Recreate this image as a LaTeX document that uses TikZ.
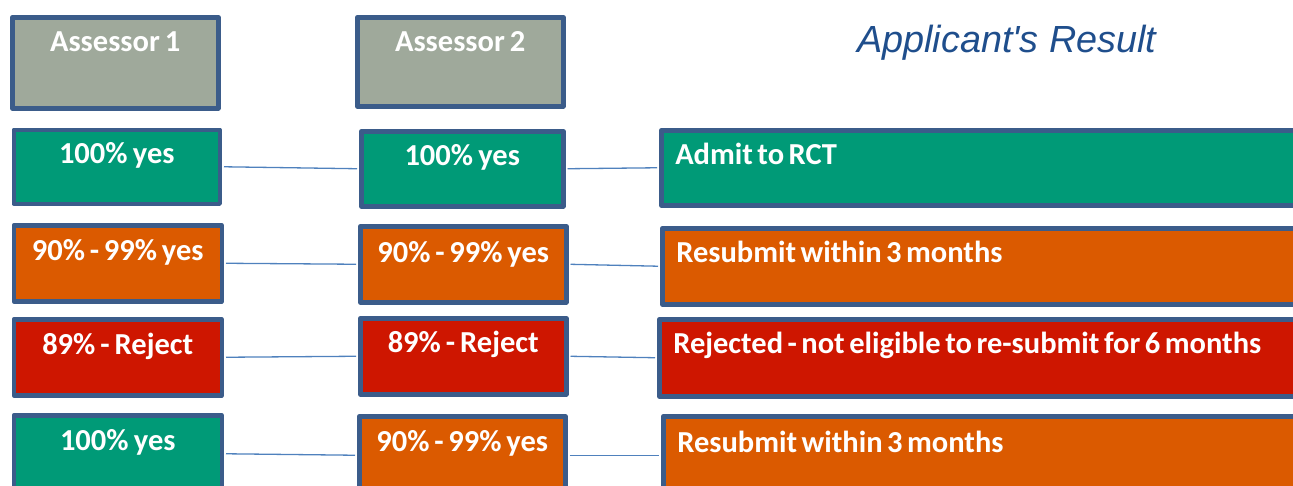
\documentclass[tikz,border=0pt]{standalone}
\usepackage{fontspec}
\setmainfont{Carlito}
\newfontfamily\titlefont{Liberation Sans}
\definecolor{bordc}{HTML}{3B5C8A}
\definecolor{grayc}{HTML}{9FA99B}
\definecolor{greenc}{HTML}{009A77}
\definecolor{orangec}{HTML}{DB5A00}
\definecolor{redc}{HTML}{CE1600}
\definecolor{connc}{HTML}{4F81BD}
\definecolor{titlec}{HTML}{1F4E8C}
\newcommand\tightsp{\spaceskip=4.5pt plus 1pt\xspaceskip=4.5pt plus 1pt\relax}
\begin{document}
\begin{tikzpicture}[x=1pt,y=-1pt,
  box/.style={draw=bordc, line width=4.5pt, inner xsep=0pt, inner ysep=0pt,
    anchor=north west, text=white, line join=round,
    font=\bfseries\fontsize{30.5}{31}\selectfont,
    execute at begin node=\tightsp},
  ctr/.style={align=center, text width=#1},
  lft/.style={align=left, inner xsep=14pt, text width=713pt},
  conn/.style={draw=connc, line width=1.3pt, shorten <=2pt, shorten >=2pt}]
\useasboundingbox (0,0) rectangle (1293,485);
\clip (0,0) rectangle (1293,485);
% headers
\node[box, fill=grayc, ctr=206pt, text height=34pt, text depth=57pt] (a1) at (10,15) {Assessor 1};
\node[box, fill=grayc, ctr=206pt, text height=34pt, text depth=55pt] (a2) at (355,15) {Assessor 2};
\node[anchor=base west, inner sep=0pt, text=titlec, font=\titlefont\itshape\fontsize{37.8}{38}\selectfont] (title) at (857,52) {Applicant's Result};
% row 1
\node[box, fill=greenc, ctr=206pt, text height=34pt, text depth=40pt] (r1a) at (11.5,127.5) {100\% yes};
\node[box, fill=greenc, ctr=202pt, text height=34pt, text depth=41pt] (r1b) at (359,129) {100\% yes};
\node[box, fill=greenc, lft, text height=34pt, text depth=41pt] (r1c) at (659,128) {Admit to RCT};
% row 2
\node[box, fill=orangec, ctr=208pt, text height=35pt, text depth=41pt] (r2a) at (11.5,223) {90\% - 99\% yes};
\node[box, fill=orangec, ctr=206pt, text height=36pt, text depth=40pt] (r2b) at (358,224) {90\% - 99\% yes};
\node[box, fill=orangec, lft, text height=34pt, text depth=42pt] (r2c) at (660,226) {Resubmit within 3 months};
% row 3
\node[box, fill=redc, ctr=208pt, text height=35pt, text depth=41pt] (r3a) at (11.5,317) {89\% - Reject};
\node[box, fill=redc, ctr=206pt, text height=34pt, text depth=42pt] (r3b) at (358,316) {89\% - Reject};
\node[box, fill=redc, lft, text height=34pt, text depth=43pt] (r3c) at (657,317) {Rejected - not eligible to re-submit for 6 months};
% row 4
\node[box, fill=greenc, ctr=208pt, text height=35pt, text depth=42pt] (r4a) at (11.5,413) {100\% yes};
\node[box, fill=orangec, ctr=206pt, text height=35pt, text depth=43pt] (r4b) at (357,414) {90\% - 99\% yes};
\node[box, fill=orangec, lft, text height=36pt, text depth=42pt] (r4c) at (661,414) {Resubmit within 3 months};
% connectors
\draw[conn] (r1a.east) -- (r1b.west);
\draw[conn] (r1b.east) -- (r1c.west);
\draw[conn] (r2a.east) -- (r2b.west);
\draw[conn] (r2b.east) -- (r2c.west);
\draw[conn] (r3a.east) -- (r3b.west);
\draw[conn] (r3b.east) -- (r3c.west);
\draw[conn] (r4a.east) -- (r4b.west);
\draw[conn] (r4b.east) -- (r4c.west);
\end{tikzpicture}
\end{document}
